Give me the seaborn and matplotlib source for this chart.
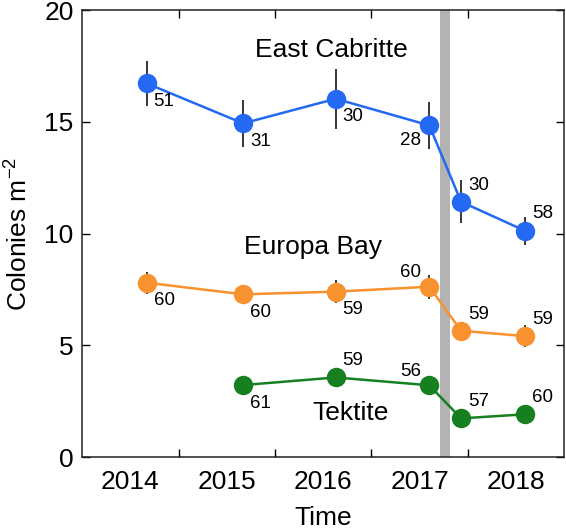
import numpy as np
import pandas as pd
import matplotlib
matplotlib.use("Agg")
import matplotlib.pyplot as plt
import seaborn as sns

# survey times (decimal year) and values
ec_time = [2014.67, 2015.67, 2016.63, 2017.60, 2017.93, 2018.59]
ec_mean = [16.72, 14.93, 16.03, 14.84, 11.42, 10.13]
ec_err = [1.0, 1.05, 1.33, 1.04, 0.97, 0.63]
ec_n = [51, 31, 30, 28, 30, 58]

eb_time = [2014.67, 2015.67, 2016.63, 2017.60, 2017.93, 2018.59]
eb_mean = [7.80, 7.28, 7.40, 7.62, 5.65, 5.41]
eb_err = [0.5, 0.43, 0.52, 0.54, 0.4, 0.5]
eb_n = [60, 60, 59, 60, 59, 59]

tk_time = [2015.67, 2016.63, 2017.60, 2017.93, 2018.59]
tk_mean = [3.22, 3.56, 3.21, 1.73, 1.91]
tk_err = [0.22, 0.25, 0.22, 0.2, 0.22]
tk_n = [61, 59, 56, 57, 60]

sites = ["East Cabritte", "Europa Bay", "Tektite"]
colors = {"East Cabritte": "#2469f2", "Europa Bay": "#f7922e", "Tektite": "#168020"}
years = [2014, 2015, 2016, 2017, 2018]
hurricane = (2017.71, 2017.82)

df = pd.concat([
    pd.DataFrame({"time": ec_time, "mean": ec_mean, "err": ec_err, "n": ec_n, "site": "East Cabritte"}),
    pd.DataFrame({"time": eb_time, "mean": eb_mean, "err": eb_err, "n": eb_n, "site": "Europa Bay"}),
    pd.DataFrame({"time": tk_time, "mean": tk_mean, "err": tk_err, "n": tk_n, "site": "Tektite"}),
], ignore_index=True)

# where to put the n labels: br / bl / ar / al
ec_pos = ["br", "br", "br", "bl", "ar", "ar"]
eb_pos = ["br", "br", "br", "al", "ar", "ar"]
tk_pos = ["br", "ar", "al", "ar", "ar"]
df["pos"] = ec_pos + eb_pos + tk_pos
offsets = {"br": (5, -13, "left"), "bl": (-6, -11, "right"),
           "ar": (5, 12, "left"), "al": (-6, 10, "right")}

sns.set_style("ticks")
plt.rcParams["font.family"] = ["Liberation Sans", "DejaVu Sans"]
plt.rcParams.update({"text.color": "black", "axes.labelcolor": "black",
                     "xtick.color": "black", "ytick.color": "black"})

fig = plt.figure(figsize=(5.66, 5.30), dpi=100)
ax = fig.add_axes([0.145, 0.1377, 0.852, 0.8433])

ax.axvspan(*hurricane, color="#b3b3b3", lw=0, zorder=0)

for s in sites:
    d = df[df.site == s]
    ax.errorbar(d["time"], d["mean"], yerr=d["err"], fmt="none",
                ecolor="black", elinewidth=1.1, capsize=0, zorder=2)

sns.lineplot(data=df, x="time", y="mean", hue="site", palette=colors,
             marker="o", markersize=14, markeredgewidth=0, linewidth=1.8,
             errorbar=None, legend=False, ax=ax, zorder=3)

for _, r in df.iterrows():
    dx, dy, ha = offsets[r["pos"]]
    ax.annotate(str(r["n"]), (r["time"], r["mean"]), xytext=(dx, dy),
                textcoords="offset points", ha=ha, va="center", fontsize=13.5)

ax.text(2016.59, 18.2, "East Cabritte", ha="center", va="center", fontsize=19)
ax.text(2016.39, 9.4, "Europa Bay", ha="center", va="center", fontsize=19)
ax.text(2016.78, 1.97, "Tektite", ha="center", va="center", fontsize=19)

ax.set_xlim(2014, 2019)
ax.set_ylim(0, 20)
ax.set_yticks([0, 5, 10, 15, 20])
ax.set_xticks([y + 1 for y in years[:-1]])
ax.set_xticklabels([])
ax.set_xticks([y + 0.5 for y in years], minor=True)
ax.set_xticklabels([str(y) for y in years], minor=True)
ax.tick_params(axis="x", which="minor", length=0, pad=9, labelsize=19)
ax.tick_params(axis="both", which="major", direction="in", length=6,
               width=1, top=True, right=True, labelsize=19)
ax.tick_params(axis="y", pad=6)

for sp in ax.spines.values():
    sp.set_linewidth(1.1)
    sp.set_color("#222222")

ax.set_xlabel("Time", fontsize=19, labelpad=9)
ax.set_ylabel("Colonies m$^{\\mathregular{-2}}$", fontsize=19, labelpad=9)

fig.savefig("out.png", dpi=100)
